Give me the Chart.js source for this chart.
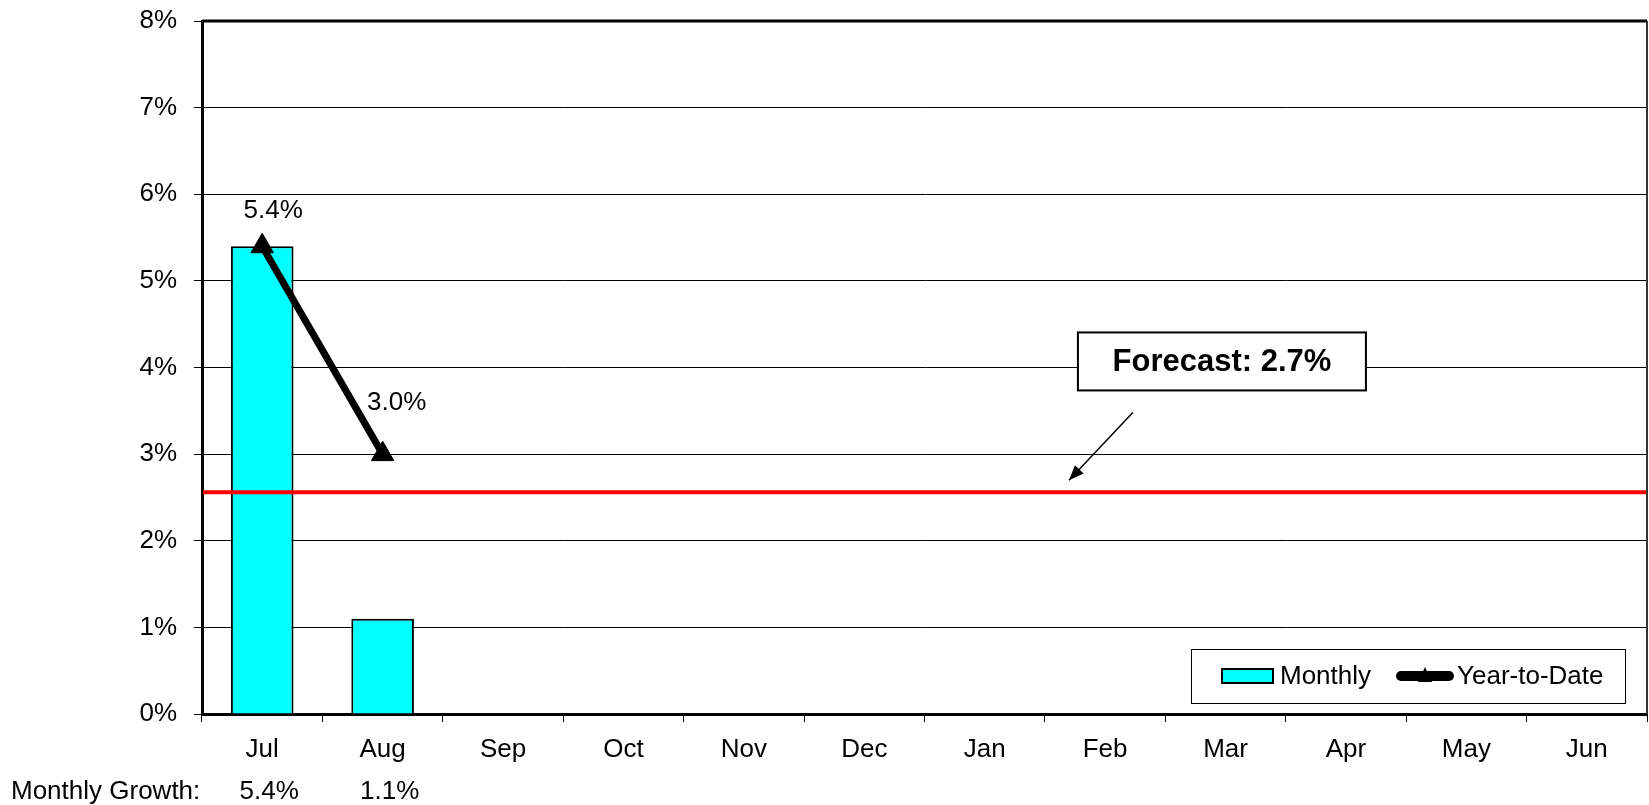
<!DOCTYPE html>
<html>
<head>
<meta charset="utf-8">
<script src="https://cdn.jsdelivr.net/npm/chart.js@4.4.1/dist/chart.umd.min.js"></script>
<style>
  html, body { margin: 0; padding: 0; background: #fff; overflow: hidden; }
  canvas { display: block; }
</style>
</head>
<body>
<canvas id="chart" width="1649" height="805"></canvas>
<script>
const months = ['Jul', 'Aug', 'Sep', 'Oct', 'Nov', 'Dec', 'Jan', 'Feb', 'Mar', 'Apr', 'May', 'Jun'];
const monthly = [5.4, 1.1, null, null, null, null, null, null, null, null, null, null];
const yearToDate = [5.4, 3.0, null, null, null, null, null, null, null, null, null, null];
const forecastLine = 2.56;
const forecastText = 'Forecast: 2.7%';
const rowLabel = 'Monthly Growth:';
const yTicks = [0, 1, 2, 3, 4, 5, 6, 7, 8];

const FONT = '"Liberation Sans", Arial, sans-serif';
// label nudges (px) for the YTD data labels, as placed in the original
const ytdLabelOffsets = [[11, -35], [14, -51]];

function noPad(s) {
    s.paddingTop = 0;
    s.paddingBottom = 0;
    s.paddingLeft = 0;
    s.paddingRight = 0;
}

const extras = {
    id: 'extras',
    afterDatasetsDraw(chart) {
        const ctx = chart.ctx;
        const a = chart.chartArea;
        const x = chart.scales.x;
        const y = chart.scales.y;
        ctx.save();

        // forecast line
        const fy = y.getPixelForValue(forecastLine);
        ctx.strokeStyle = '#ff0000';
        ctx.lineWidth = 4;
        ctx.beginPath();
        ctx.moveTo(a.left + 1, fy);
        ctx.lineTo(a.right, fy);
        ctx.stroke();

        // top and right frame
        ctx.strokeStyle = '#000';
        ctx.lineWidth = 3;
        ctx.beginPath();
        ctx.moveTo(a.left, a.top);
        ctx.lineTo(a.right, a.top);
        ctx.stroke();
        ctx.lineWidth = 2;
        ctx.strokeStyle = '#333';
        ctx.beginPath();
        ctx.moveTo(a.right, a.top);
        ctx.lineTo(a.right, a.bottom);
        ctx.stroke();

        // YTD data labels
        ctx.fillStyle = '#000';
        ctx.font = '26px ' + FONT;
        ctx.textAlign = 'center';
        ctx.textBaseline = 'middle';
        const meta = chart.getDatasetMeta(0);
        yearToDate.forEach((v, i) => {
            if (v === null) return;
            const p = meta.data[i];
            const off = ytdLabelOffsets[i] || [0, -40];
            ctx.fillText(v.toFixed(1) + '%', p.x + off[0], p.y + off[1]);
        });

        // forecast callout box
        const bx = x.getPixelForValue(7.97);
        const by = y.getPixelForValue(4.07);
        const bw = 288, bh = 58;
        ctx.fillStyle = '#fff';
        ctx.fillRect(bx - bw / 2, by - bh / 2, bw, bh);
        ctx.strokeStyle = '#000';
        ctx.lineWidth = 2;
        ctx.strokeRect(bx - bw / 2, by - bh / 2, bw, bh);
        ctx.fillStyle = '#000';
        ctx.font = 'bold 31px ' + FONT;
        ctx.fillText(forecastText, bx, by + 1);

        // arrow to the line
        const x1 = x.getPixelForValue(7.23), y1 = y.getPixelForValue(3.48);
        const x2 = x.getPixelForValue(6.70), y2 = fy - 12;
        ctx.lineWidth = 1.5;
        ctx.beginPath();
        ctx.moveTo(x1, y1);
        ctx.lineTo(x2, y2);
        ctx.stroke();
        const ang = Math.atan2(y2 - y1, x2 - x1);
        const hl = 15, hw = 6;
        ctx.beginPath();
        ctx.moveTo(x2, y2);
        ctx.lineTo(x2 - hl * Math.cos(ang) + hw * Math.sin(ang), y2 - hl * Math.sin(ang) - hw * Math.cos(ang));
        ctx.lineTo(x2 - hl * Math.cos(ang) - hw * Math.sin(ang), y2 - hl * Math.sin(ang) + hw * Math.cos(ang));
        ctx.closePath();
        ctx.fill();

        // legend box
        const lw = 434, lh = 54;
        const lx = a.right - 22 - lw, ly = a.bottom - 11 - lh;
        ctx.fillStyle = '#fff';
        ctx.fillRect(lx, ly, lw, lh);
        ctx.strokeStyle = '#000';
        ctx.lineWidth = 1;
        ctx.strokeRect(lx + 0.5, ly + 0.5, lw, lh);
        const cy = ly + lh / 2;
        ctx.fillStyle = '#00ffff';
        ctx.fillRect(lx + 31, cy - 7, 51, 14);
        ctx.lineWidth = 2;
        ctx.strokeRect(lx + 31, cy - 7, 51, 14);
        ctx.fillStyle = '#000';
        ctx.font = '26px ' + FONT;
        ctx.textAlign = 'left';
        ctx.fillText('Monthly', lx + 89, cy + 1);
        ctx.lineWidth = 10;
        ctx.lineCap = 'round';
        ctx.beginPath();
        ctx.moveTo(lx + 210, cy);
        ctx.lineTo(lx + 258, cy);
        ctx.stroke();
        ctx.lineCap = 'butt';
        ctx.beginPath();
        ctx.moveTo(lx + 234, cy - 9);
        ctx.lineTo(lx + 241, cy + 6);
        ctx.lineTo(lx + 227, cy + 6);
        ctx.closePath();
        ctx.fill();
        ctx.fillText('Year-to-Date', lx + 266, cy + 1);

        // monthly growth row under the axis
        ctx.textBaseline = 'alphabetic';
        ctx.textAlign = 'left';
        ctx.fillText(rowLabel, 11, 799);
        ctx.textAlign = 'center';
        monthly.forEach((v, i) => {
            if (v === null) return;
            ctx.fillText(v.toFixed(1) + '%', x.getPixelForValue(i) + 7, 799);
        });
        ctx.restore();
    }
};

const ctxMain = document.getElementById('chart').getContext('2d');
new Chart(ctxMain, {
    data: {
        labels: months,
        datasets: [
            {
                type: 'line',
                label: 'Year-to-Date',
                data: yearToDate,
                borderColor: '#000',
                borderWidth: 7,
                pointStyle: 'triangle',
                pointRadius: 13,
                pointBackgroundColor: '#000',
                pointBorderColor: '#000',
                pointBorderWidth: 1,
                tension: 0,
                spanGaps: false
            },
            {
                type: 'bar',
                label: 'Monthly',
                data: monthly,
                backgroundColor: '#00ffff',
                borderColor: '#000',
                borderWidth: 2,
                categoryPercentage: 1,
                barPercentage: 0.52
            }
        ]
    },
    options: {
        responsive: false,
        animation: false,
        devicePixelRatio: 1,
        layout: { autoPadding: false, padding: { top: 21, right: 2, left: 0, bottom: 0 } },
        plugins: {
            legend: { display: false },
            tooltip: { enabled: false }
        },
        scales: {
            y: {
                min: 0,
                max: 8,
                afterFit: (s) => { s.width = 202; noPad(s); },
                afterBuildTicks: (s) => { s.ticks = yTicks.map(v => ({ value: v })); },
                ticks: {
                    color: '#000',
                    font: { family: FONT, size: 26 },
                    padding: 17,
                    callback: (v) => v + '%'
                },
                grid: { color: '#000', lineWidth: 1, tickLength: 8 },
                border: { display: true, color: '#000', width: 3 }
            },
            x: {
                offset: true,
                afterFit: (s) => { s.height = 91; noPad(s); },
                ticks: {
                    color: '#000',
                    font: { family: FONT, size: 26 },
                    padding: 12,
                    maxRotation: 0,
                    autoSkip: false
                },
                grid: { offset: true, drawOnChartArea: false, color: '#000', tickLength: 8 },
                border: { display: true, color: '#000', width: 3 }
            }
        }
    },
    plugins: [extras]
});
</script>
</body>
</html>
